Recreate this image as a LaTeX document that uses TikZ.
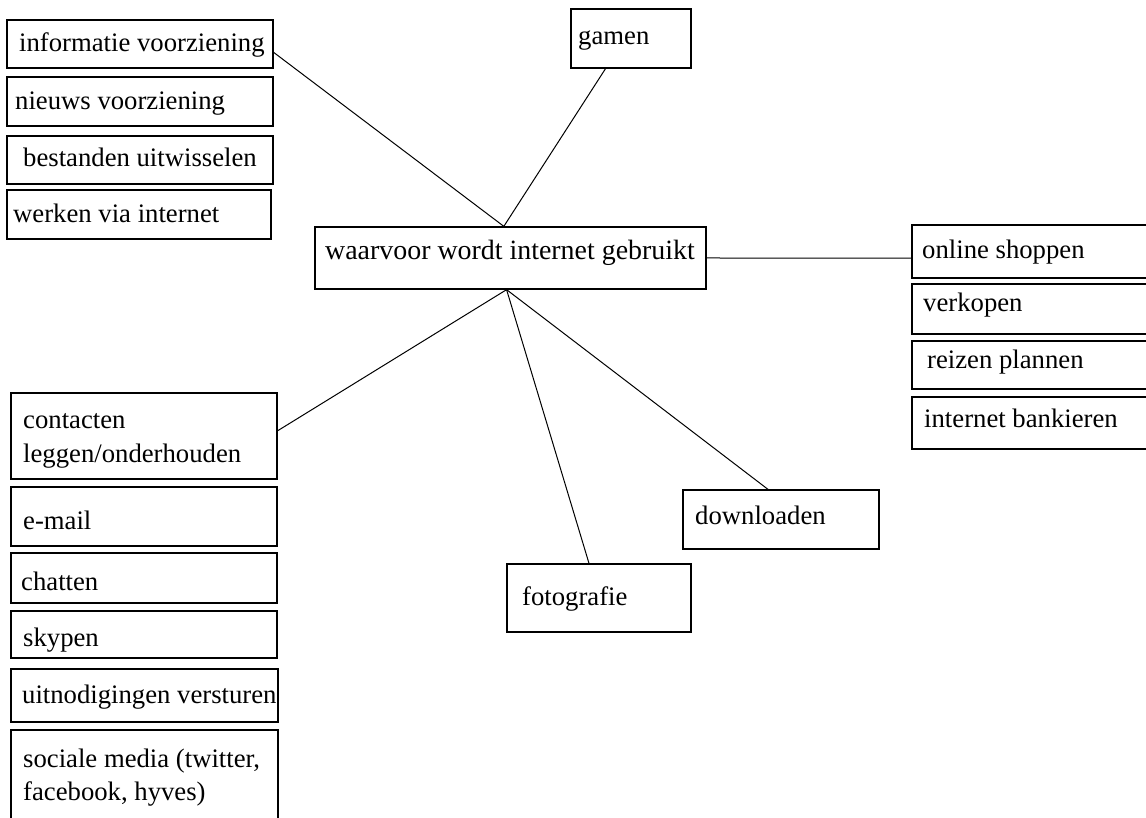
\documentclass[tikz,border=0pt]{standalone}
\usepackage{fontspec}
\setmainfont{Liberation Serif}
\usetikzlibrary{calc}
\tikzset{
  box/.style={draw=black, line width=1.3pt, inner sep=0pt, rectangle},
  lbl/.style={anchor=base west, inner sep=0pt, font=\fontsize{26.7}{34}\selectfont},
  link/.style={draw=black, line width=1pt}
}
\newcommand\bx[5]{\node[box, minimum width={(#4-#2)*1pt}, minimum height={(#5-#3)*1pt}] (#1) at ({(#2+#4)/2},{(#3+#5)/2}) {};}
\begin{document}
\begin{tikzpicture}[x=1pt,y=-1pt]
\useasboundingbox (0,0) rectangle (1146,818);
\clip (0,0) rectangle (1146,818);
% boxes
\bx{info}{7}{20}{273}{68}
\bx{nieuws}{7}{77}{273}{126}
\bx{bestanden}{7}{136}{273}{184}
\bx{werken}{7}{190}{271}{239}
\bx{gamen}{571}{9}{691}{68}
\bx{center}{315}{227}{706}{289}
\bx{online}{912}{225}{1160}{278}
\bx{verkopen}{912}{284}{1160}{334}
\bx{reizen}{912}{341}{1160}{389}
\bx{bank}{912}{397}{1160}{449}
\bx{contacten}{11}{393}{277}{479}
\bx{email}{11}{487}{277}{546}
\bx{chatten}{11}{553}{277}{603}
\bx{skypen}{11}{611}{277}{658}
\bx{uitnod}{11}{669}{278}{722}
\bx{sociale}{11}{730}{278}{830}
\bx{downloaden}{683}{490}{879}{549}
\bx{fotografie}{507}{564}{691}{632}
% labels
\node[lbl] (t-info) at (19,52) {informatie voorziening};
\node[lbl] (t-nieuws) at (15,110) {nieuws voorziening};
\node[lbl] (t-bestanden) at (23,167) {bestanden uitwisselen};
\node[lbl] (t-werken) at (13,223) {werken via internet};
\node[lbl] (t-gamen) at (578,45) {gamen};
\node[lbl, font=\fontsize{27.9}{34}\selectfont] (t-center) at (325,260) {waarvoor wordt internet gebruikt};
\node[lbl] (t-online) at (922,259) {online shoppen};
\node[lbl] (t-verkopen) at (923,312) {verkopen};
\node[lbl] (t-reizen) at (927,368) {reizen plannen};
\node[lbl] (t-bank) at (924,427) {internet bankieren};
\node[lbl] (t-contacten1) at (23,428) {contacten};
\node[lbl] (t-contacten2) at (23,462) {leggen/onderhouden};
\node[lbl] (t-email) at (23,529) {e-mail};
\node[lbl] (t-chatten) at (21,590) {chatten};
\node[lbl] (t-skypen) at (23,646) {skypen};
\node[lbl] (t-uitnod) at (22,703) {uitnodigingen versturen};
\node[lbl] (t-sociale1) at (23,767) {sociale media (twitter,};
\node[lbl] (t-sociale2) at (23,800) {facebook, hyves)};
\node[lbl] (t-downloaden) at (695,524) {downloaden};
\node[lbl] (t-fotografie) at (522,605) {fotografie};
% connection points
\coordinate (ctop) at ($(center.north west)!0.483!(center.north east)$);
\coordinate (cbot) at ($(center.south west)!0.49!(center.south east)$);
% connectors
\draw[link] ($(info.north east)!0.67!(info.south east)$) -- (ctop);
\draw[link] ($(gamen.south west)!0.29!(gamen.south east)$) -- (ctop);
\draw[link] (center.east) -- ($(online.north west)!0.62!(online.south west)$);
\draw[link] ($(contacten.north east)!0.44!(contacten.south east)$) -- (cbot);
\draw[link] (cbot) -- ($(fotografie.north west)!0.446!(fotografie.north east)$);
\draw[link] (cbot) -- ($(downloaden.north west)!0.434!(downloaden.north east)$);
\end{tikzpicture}
\end{document}
